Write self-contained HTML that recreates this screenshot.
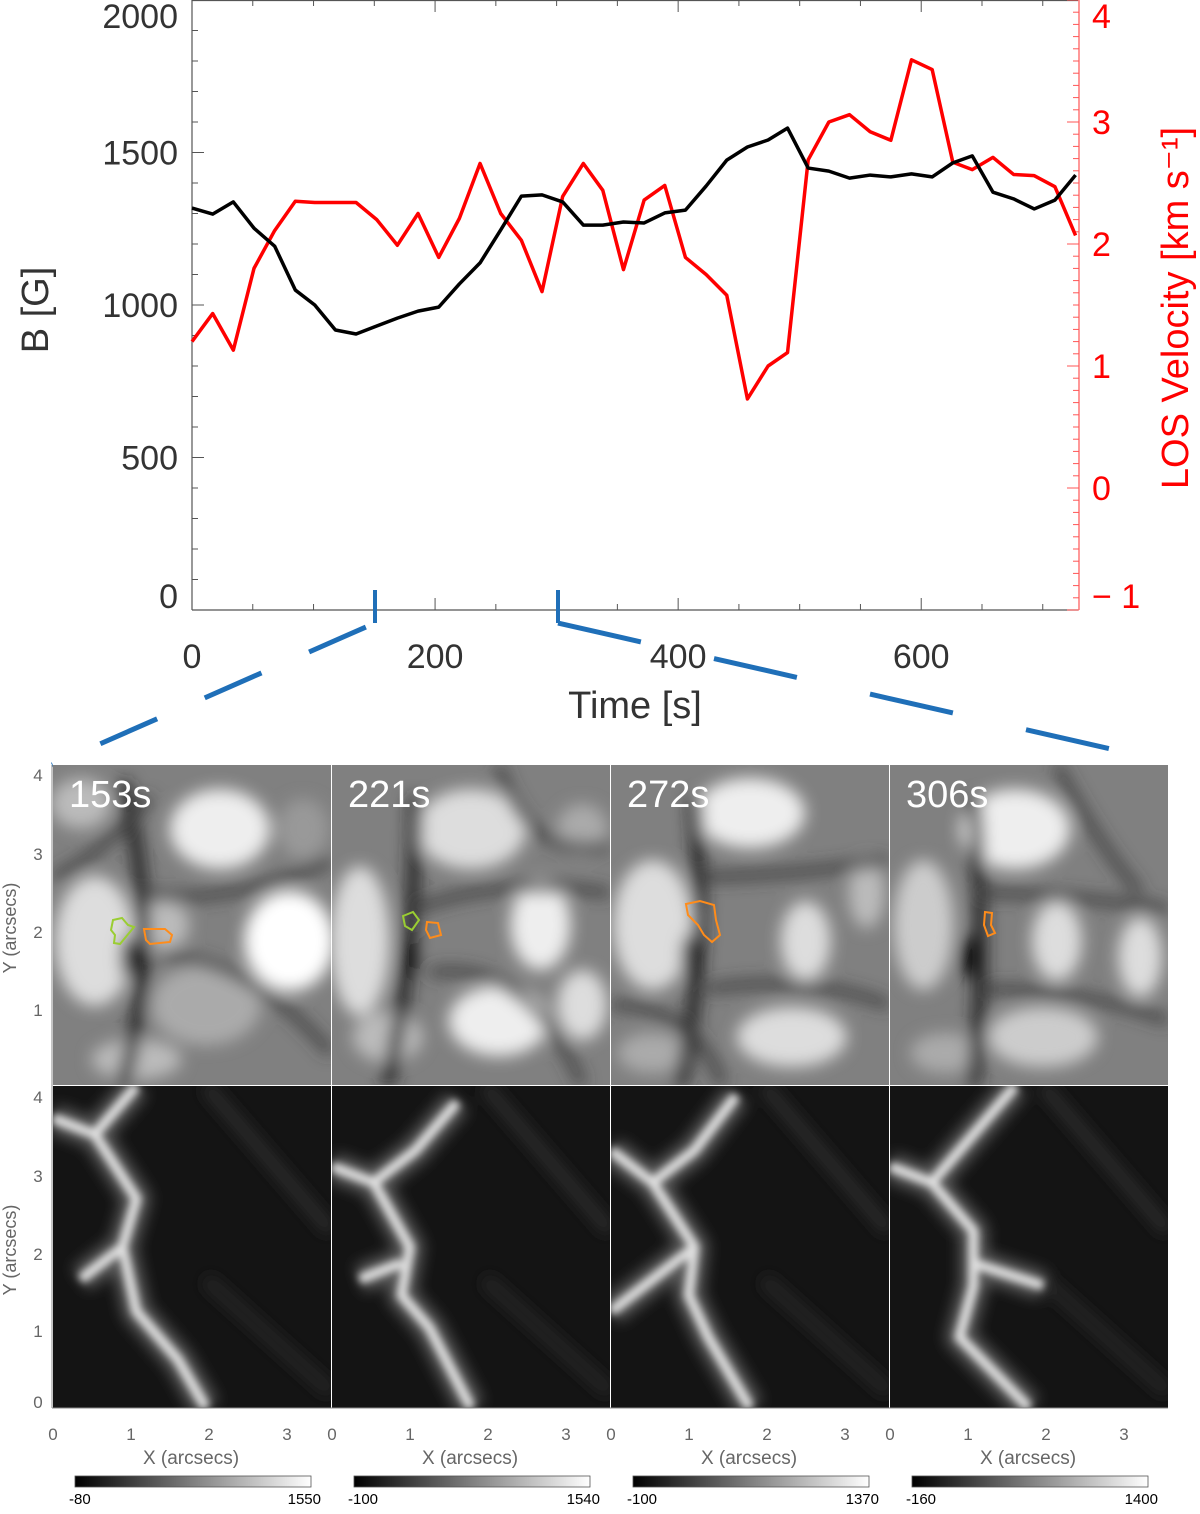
<!DOCTYPE html>
<html><head><meta charset="utf-8">
<style>
html,body{margin:0;padding:0;background:#fff;}
svg{display:block;font-family:"Liberation Sans",sans-serif;}
</style></head>
<body>
<svg id="fig" width="1200" height="1514" viewBox="0 0 1200 1514" xmlns="http://www.w3.org/2000/svg">
<defs>
<filter id="blur8" x="-30%" y="-30%" width="160%" height="160%"><feGaussianBlur stdDeviation="8"/></filter>
<filter id="blur4" x="-30%" y="-30%" width="160%" height="160%"><feGaussianBlur stdDeviation="4"/></filter>
<filter id="blur7" x="-30%" y="-30%" width="160%" height="160%"><feGaussianBlur stdDeviation="7"/></filter>
<linearGradient id="cbar" x1="0" x2="1" y1="0" y2="0"><stop offset="0" stop-color="#000"/><stop offset="1" stop-color="#fff"/></linearGradient>
<clipPath id="c0"><rect x="53" y="765" width="278" height="320"/></clipPath>
<clipPath id="c1"><rect x="332" y="765" width="278" height="320"/></clipPath>
<clipPath id="c2"><rect x="611" y="765" width="278" height="320"/></clipPath>
<clipPath id="c3"><rect x="890" y="765" width="278" height="320"/></clipPath>
<clipPath id="d0"><rect x="53" y="1086" width="278" height="322"/></clipPath>
<clipPath id="d1"><rect x="332" y="1086" width="278" height="322"/></clipPath>
<clipPath id="d2"><rect x="611" y="1086" width="278" height="322"/></clipPath>
<clipPath id="d3"><rect x="890" y="1086" width="278" height="322"/></clipPath>
</defs>
<g id="chart"></g>
<g id="panels"></g>
</svg>
<script>
const times = [0,17,34,51,68,85,101,118,135,152,169,186,203,220,237,254,271,288,305,322,338,355,372,389,406,423,440,457,474,490,507,524,541,558,575,592,609,626,642,659,676,693,710,727];
const bField = [1318,1298,1338,1252,1193,1049,1000,918,905,931,957,980,993,1069,1138,1246,1357,1361,1338,1262,1262,1272,1269,1302,1311,1390,1475,1518,1541,1580,1449,1439,1416,1426,1420,1430,1420,1466,1489,1370,1348,1315,1344,1426];
const losVel = [1.20,1.43,1.13,1.80,2.11,2.35,2.34,2.34,2.34,2.20,1.99,2.25,1.89,2.21,2.66,2.25,2.03,1.61,2.39,2.66,2.44,1.79,2.36,2.48,1.89,1.75,1.58,0.73,1.00,1.11,2.69,3.00,3.06,2.92,2.85,3.51,3.43,2.67,2.61,2.71,2.57,2.56,2.47,2.07];
const xTicks = [0,200,400,600];
const bTicks = [0,500,1000,1500,2000];
const vTicks = [-1,0,1,2,3,4];
const panelTimes = ["153s","221s","272s","306s"];
const cbMin = ["-80","-100","-100","-160"];
const cbMax = ["1550","1540","1370","1400"];

const NS="http://www.w3.org/2000/svg";
function mk(tag,attrs,parent,text){const e=document.createElementNS(NS,tag);for(const k in attrs)e.setAttribute(k,attrs[k]);if(text!==undefined)e.textContent=text;parent.appendChild(e);return e;}
const chart=document.getElementById('chart');
const L=192,R=1078,T=0,B=610;
const xs=t=>L+t*(R-L)/729;
const yB=b=>B-b*(B-T)/2000;
const yV=v=>T+(4-v)*122;
const txt='#333';
let e;
e=mk('line',{x1:L,y1:T+0.5,x2:R,y2:T+0.5,stroke:'#555','stroke-width':1.2},chart);

e=mk('line',{x1:L,y1:B,x2:R,y2:B,stroke:'#555','stroke-width':1.2},chart);

e=mk('line',{x1:L,y1:T,x2:L,y2:B,stroke:'#555','stroke-width':1.2},chart);

e=mk('line',{x1:R+1,y1:T,x2:R+1,y2:B,stroke:'#f55','stroke-width':1.2},chart);

for(let t=0;t<=729;t+=50){const major=t%200===0;const x=xs(t);
 mk('line',{x1:x,y1:B,x2:x,y2:B-(major?12:6),stroke:'#555','stroke-width':1},chart);
 mk('line',{x1:x,y1:T,x2:x,y2:T+(major?12:6),stroke:'#555','stroke-width':1},chart);}
xTicks.forEach(t=>{e=mk('text',{x:xs(t),y:668,'text-anchor':'middle','font-size':34,fill:txt},chart,String(t));
 });
e=mk('text',{x:635,y:718,'text-anchor':'middle','font-size':38,fill:txt},chart,'Time [s]');

for(let b=0;b<=2000;b+=100){const major=b%500===0;const y=yB(b);
 mk('line',{x1:L,y1:y,x2:L+(major?12:6),y2:y,stroke:'#555','stroke-width':1},chart);}
bTicks.forEach(b=>{let y=yB(b)+12;if(b===0)y=608;if(b===2000)y=28;
 e=mk('text',{x:178,y:y,'text-anchor':'end','font-size':34,fill:txt},chart,String(b));
 });
e=mk('text',{x:0,y:0,'text-anchor':'middle','font-size':38,fill:txt,transform:'translate(48,310) rotate(-90)'},chart,'B [G]');

for(let i=-10;i<=40;i++){const v=i/10;const y=yV(v);const major=i%10===0;
 mk('line',{x1:R+1,y1:y,x2:R+1-(major?12:6),y2:y,stroke:'#f55','stroke-width':1},chart);}
vTicks.forEach(v=>{let y=yV(v)+12;if(v===4)y=28;if(v===-1)y=608;
 e=mk('text',{x:1092,y:y,'font-size':34,fill:'#f00'},chart,v<0?'\u2212 1':String(v));
 });
e=mk('text',{x:0,y:0,'text-anchor':'middle','font-size':38,fill:'#f00',transform:'translate(1188,308) rotate(-90)'},chart,'LOS Velocity [km s\u207B\u00B9]');

e=mk('polyline',{points:times.map((t,i)=>xs(t)+','+yV(losVel[i])).join(' '),fill:'none',stroke:'#f00','stroke-width':3.5,'stroke-linejoin':'round'},chart);

e=mk('polyline',{points:times.map((t,i)=>xs(t)+','+yB(bField[i])).join(' '),fill:'none',stroke:'#000','stroke-width':3.5,'stroke-linejoin':'round'},chart);

const blue='#1f6fb8';
e=mk('path',{d:'M375,590 L375,623',stroke:blue,'stroke-width':4,fill:'none'},chart);

e=mk('path',{d:'M558,590 L558,623',stroke:blue,'stroke-width':4,fill:'none'},chart);

e=mk('path',{d:'M375,623 L52,765',stroke:blue,'stroke-width':5,fill:'none','stroke-dasharray':'0 10 62 52 62 52 62 52 62 52 62'},chart);

e=mk('path',{d:'M558,623 L1168,762',stroke:blue,'stroke-width':5,fill:'none','stroke-dasharray':'85 75'},chart);


const P=document.getElementById('panels');
const px=[53,332,611,890];
const topBlobs=[
 [[0.15,0.55,40,65,'#ddd'],[0.6,0.2,50,40,'#eee'],[0.85,0.55,45,50,'#fff'],[0.55,0.75,55,40,'#aaa'],[0.1,0.12,30,25,'#bbb'],[0.3,0.92,45,20,'#bbb'],[0.9,0.2,25,30,'#999'],[0.4,0.5,25,25,'#bbb']],
 [[0.1,0.55,30,75,'#ddd'],[0.5,0.2,55,40,'#ddd'],[0.75,0.5,30,45,'#eee'],[0.6,0.8,50,35,'#eee'],[0.2,0.85,35,25,'#bbb'],[0.9,0.75,25,35,'#ddd'],[0.9,0.2,25,25,'#aaa']],
 [[0.15,0.5,40,65,'#ddd'],[0.5,0.15,55,35,'#eee'],[0.7,0.55,25,40,'#ddd'],[0.65,0.85,55,30,'#ddd'],[0.15,0.9,35,20,'#aaa'],[0.92,0.4,18,35,'#bbb']],
 [[0.12,0.5,30,65,'#ccc'],[0.45,0.2,55,40,'#eee'],[0.6,0.55,25,40,'#ddd'],[0.55,0.85,55,30,'#ccc'],[0.9,0.6,22,40,'#ddd'],[0.2,0.9,35,20,'#aaa']]];
const darkLanes=[
 [[0.25,0.05,0.4,0.55,0.25,1.0],[0.3,0.4,0.6,0.45,1.0,0.3],[0.4,0.6,0.7,0.6,1.0,0.9],[0.0,0.35,0.15,0.3,0.35,0.1]],
 [[0.3,0.1,0.3,0.6,0.2,1.0],[0.3,0.45,0.6,0.35,1.0,0.4],[0.35,0.65,0.7,0.6,0.9,1.0],[0.6,0.0,0.7,0.3,1.0,0.25]],
 [[0.3,0.1,0.35,0.6,0.25,1.0],[0.3,0.35,0.6,0.35,1.0,0.3],[0.35,0.7,0.7,0.65,1.0,0.75],[0.0,0.75,0.3,0.75,0.4,1.0]],
 [[0.3,0.1,0.35,0.6,0.3,1.0],[0.3,0.4,0.6,0.4,1.0,0.45],[0.35,0.7,0.7,0.7,1.0,0.8],[0.6,0.0,0.75,0.25,0.9,0.4]]];
const brightLanes=[
 [[[0,0.1],[0.15,0.15],[0.3,0.35],[0.25,0.5],[0.3,0.7],[0.45,0.85],[0.55,1.0]],[[0.15,0.15],[0.3,0.0]],[[0.25,0.5],[0.1,0.6]]],
 [[[0,0.25],[0.15,0.3],[0.3,0.2],[0.45,0.05]],[[0.15,0.3],[0.28,0.5],[0.25,0.65],[0.35,0.75],[0.5,1.0]],[[0.25,0.55],[0.1,0.6]]],
 [[[0,0.2],[0.15,0.3],[0.3,0.2],[0.45,0.03]],[[0.15,0.3],[0.3,0.5],[0.28,0.65],[0.35,0.78],[0.5,1.0]],[[0.3,0.5],[0.0,0.7]]],
 [[[0,0.25],[0.15,0.3],[0.3,0.15],[0.45,0.0]],[[0.15,0.3],[0.3,0.45],[0.3,0.62],[0.25,0.78],[0.5,1.0]],[[0.3,0.55],[0.55,0.62]]]];
for(let k=0;k<4;k++){
 const x0=px[k],w=278,y0=765,h=320;
 const g=mk('g',{'clip-path':'url(#c'+k+')'},P);
 
 mk('rect',{x:x0,y:y0,width:w,height:h,fill:'#808080'},g);
 const bg=mk('g',{filter:'url(#blur8)'},g);
 topBlobs[k].forEach(b=>mk('ellipse',{cx:x0+b[0]*w,cy:y0+b[1]*h,rx:b[2],ry:b[3],fill:b[4]},bg));
 darkLanes[k].forEach((l,j)=>mk('path',{d:`M${x0+l[0]*w},${y0+l[1]*h} Q${x0+l[2]*w},${y0+l[3]*h} ${x0+l[4]*w},${y0+l[5]*h}`,stroke:j?'#3a3a3a':'#222','stroke-width':j?9:13,fill:'none'},bg));
 mk('ellipse',{cx:x0+(k===0?0.27:0.28)*w,cy:y0+0.6*h,rx:7,ry:22,fill:'#000'},bg);
 e=mk('text',{x:x0+16,y:y0+42,'font-size':38,fill:'#fff'},P,panelTimes[k]);
 
 const y1=1086,h1=322;
 const g2=mk('g',{'clip-path':'url(#d'+k+')'},P);
 
 mk('rect',{x:x0,y:y1,width:w,height:h1,fill:'#141414'},g2);
 const bg2=mk('g',{filter:'url(#blur7)'},g2);
 brightLanes[k].forEach(ln=>mk('polyline',{points:ln.map(p=>(x0+p[0]*w)+','+(y1+p[1]*h1)).join(' '),stroke:'#5a5a5a','stroke-width':28,fill:'none','stroke-linejoin':'round'},bg2));
 const bg3=mk('g',{filter:'url(#blur4)'},g2);
 brightLanes[k].forEach(ln=>mk('polyline',{points:ln.map(p=>(x0+p[0]*w)+','+(y1+p[1]*h1)).join(' '),stroke:'#e0e0e0','stroke-width':10,fill:'none','stroke-linejoin':'round'},bg3));
 mk('path',{d:`M${x0+0.55*w},${y1} L${x0+1.0*w},${y1+0.45*h1}`,stroke:'#2c2c2c','stroke-width':14,fill:'none'},bg2);
 mk('path',{d:`M${x0+0.55*w},${y1+0.6*h1} L${x0+1.0*w},${y1+0.95*h1}`,stroke:'#262626','stroke-width':14,fill:'none'},bg2);
 for(let a=0;a<=3;a++){e=mk('text',{x:x0+a*78,y:1440,'text-anchor':'middle','font-size':17,fill:'#666'},P,String(a));
  }
 e=mk('text',{x:x0+138,y:1464,'text-anchor':'middle','font-size':19,fill:'#666'},P,'X (arcsecs)');
 
 const cx=x0+22;
 e=mk('rect',{x:cx,y:1476,width:236,height:11,fill:'url(#cbar)',stroke:'#555','stroke-width':0.8},P);
 
 e=mk('text',{x:cx-6,y:1504,'font-size':15,fill:'#000'},P,cbMin[k]);
 
 e=mk('text',{x:cx+246,y:1504,'text-anchor':'end','font-size':15,fill:'#000'},P,cbMax[k]);
 
}
e=mk('path',{d:'M113,920 L122,918 L128,925 L134,927 L125,938 L120,944 L114,943 L115,935 L111,930 Z',fill:'none',stroke:'#9acd32','stroke-width':2},P);

e=mk('path',{d:'M144,929 L165,929 L172,935 L170,942 L150,944 L146,940 Z',fill:'none',stroke:'#ff8c1a','stroke-width':2},P);

e=mk('path',{d:'M403,916 L413,912 L419,920 L412,930 L405,926 Z',fill:'none',stroke:'#9acd32','stroke-width':2},P);

e=mk('path',{d:'M427,922 L438,923 L441,935 L430,938 L426,930 Z',fill:'none',stroke:'#ff8c1a','stroke-width':2},P);

e=mk('path',{d:'M686,904 L700,901 L714,905 L716,920 L720,935 L712,942 L704,935 L698,925 L688,915 Z',fill:'none',stroke:'#ff8c1a','stroke-width':2},P);

e=mk('path',{d:'M985,912 L992,913 L991,925 L995,933 L988,936 L984,925 Z',fill:'none',stroke:'#ff8c1a','stroke-width':2},P);

e=mk('line',{x1:52,y1:765,x2:52,y2:1408,stroke:'#888','stroke-width':1},P);

e=mk('line',{x1:52,y1:1408,x2:1168,y2:1408,stroke:'#888','stroke-width':1},P);

[[4,781],[3,860],[2,938],[1,1016]].forEach(p=>{e=mk('text',{x:38,y:p[1],'text-anchor':'middle','font-size':17,fill:'#666'},P,String(p[0]));
 });
[[4,1103],[3,1182],[2,1260],[1,1337],[0,1408]].forEach(p=>{e=mk('text',{x:38,y:p[1],'text-anchor':'middle','font-size':17,fill:'#666'},P,String(p[0]));
 });
[928,1250].forEach(y=>{e=mk('text',{x:0,y:0,'text-anchor':'middle','font-size':18,fill:'#666',transform:`translate(16,${y}) rotate(-90)`},P,'Y (arcsecs)');
 });
</script>
</body></html>
